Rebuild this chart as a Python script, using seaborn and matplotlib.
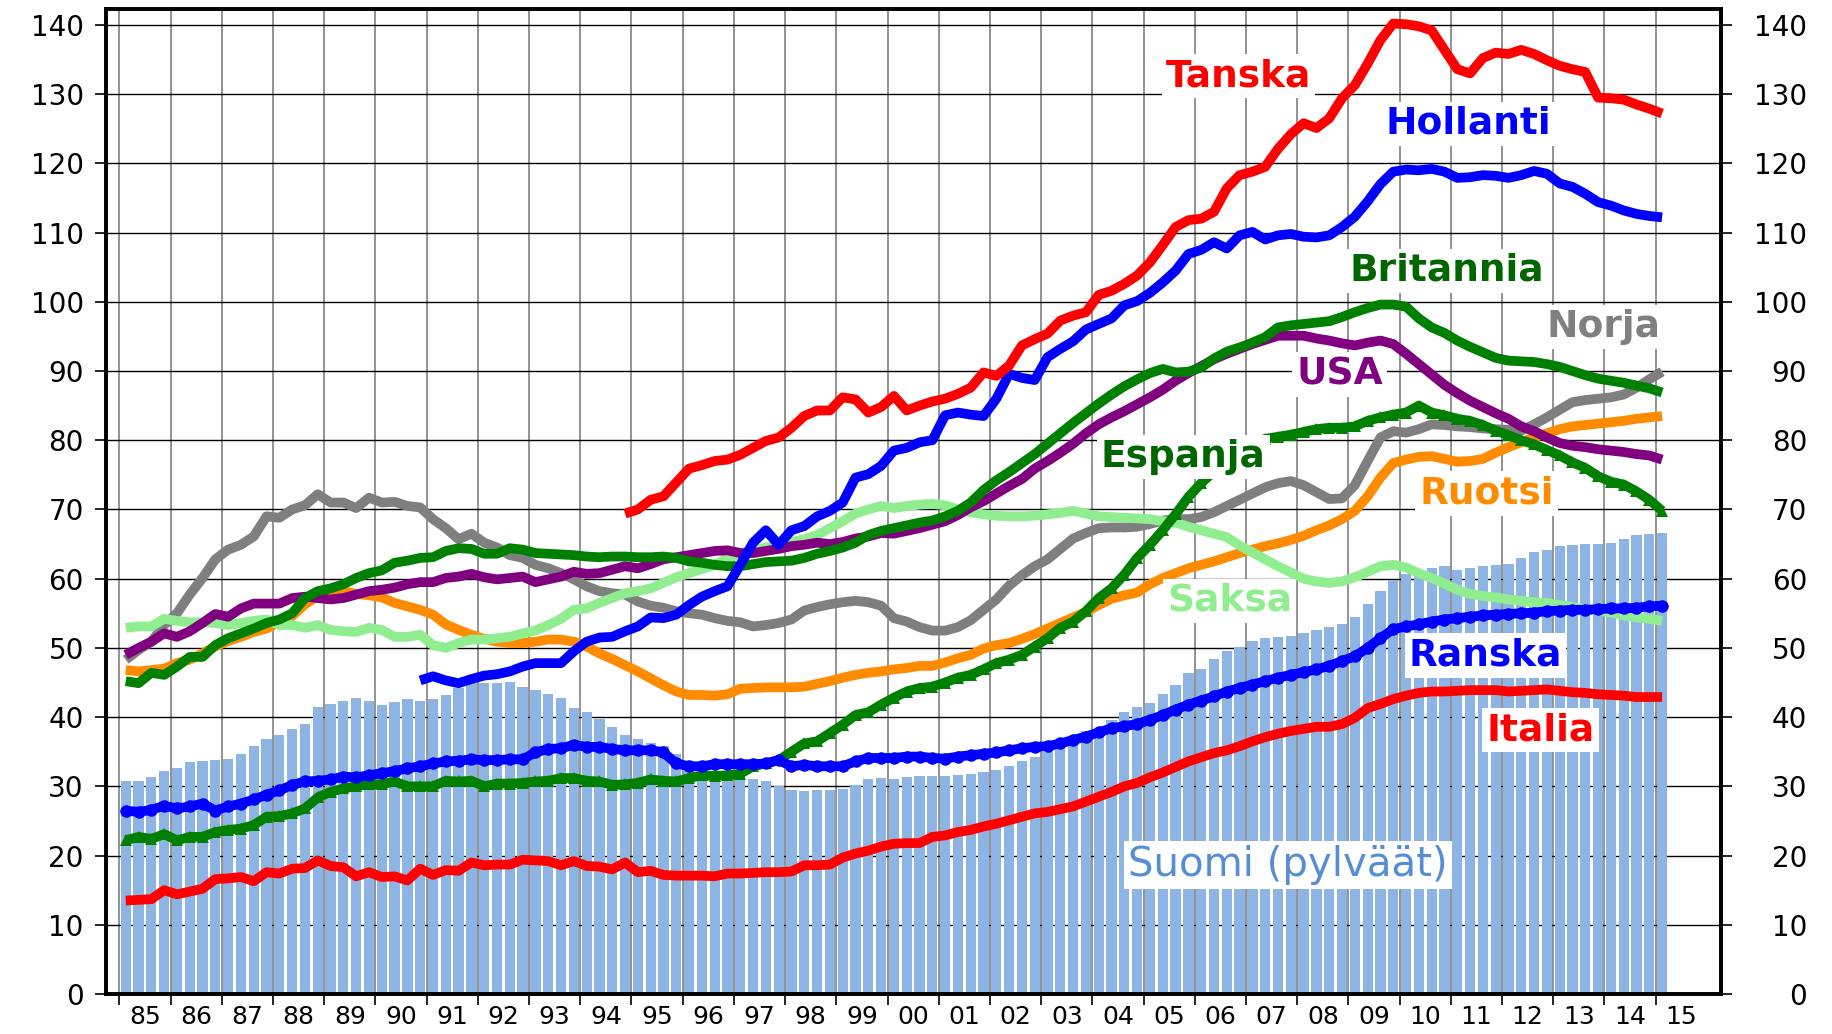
import numpy as np
import matplotlib
matplotlib.use("Agg")
import matplotlib.pyplot as plt
import seaborn as sns

# ======================
# DATA (quarterly, 1985Q1 ... 2015Q1, index 0..120)
# ======================
quarters = np.arange(121)
years = list(range(1985, 2016))
year_labels = [f"{y % 100:02d}" for y in years]

suomi = [30.8, 30.8, 31.3, 32.2, 32.6, 33.5, 33.7, 33.8, 34.0, 34.6,
         35.9, 36.8, 37.4, 38.3, 39.0, 41.5, 41.9, 42.3, 42.7, 42.4,
         41.8, 42.2, 42.6, 42.3, 42.6, 43.2, 44.2, 45.0, 45.0, 45.0,
         45.1, 44.4, 43.9, 43.4, 42.8, 41.3, 40.8, 39.8, 38.6, 37.4,
         36.9, 36.3, 35.8, 34.7, 33.0, 32.0, 31.5, 31.4, 31.3, 31.0,
         30.8, 30.0, 29.4, 29.3, 29.5, 29.5, 29.6, 30.2, 31.0, 31.2,
         31.0, 31.3, 31.5, 31.5, 31.5, 31.6, 31.8, 32.0, 32.4, 32.9,
         33.7, 34.3, 35.0, 35.8, 36.8, 38.0, 38.4, 39.6, 40.7, 41.4,
         42.0, 43.3, 44.6, 46.4, 46.9, 48.4, 49.5, 50.2, 51.0, 51.4,
         51.6, 51.7, 52.2, 52.6, 53.0, 53.4, 54.4, 56.3, 58.2, 59.8,
         60.7, 61.1, 61.5, 61.8, 61.3, 61.6, 61.8, 62.0, 62.1, 63.0,
         63.8, 64.2, 64.7, 64.9, 65.0, 65.0, 65.2, 65.8, 66.3, 66.5,
         66.6]

italia = [13.5, 13.6, 13.7, 15.0, 14.4, 14.8, 15.2, 16.6, 16.7, 16.9,
          16.3, 17.6, 17.4, 18.1, 18.2, 19.3, 18.5, 18.3, 17.0, 17.6,
          16.9, 17.0, 16.4, 18.1, 17.2, 17.9, 17.8, 19.0, 18.6, 18.7,
          18.7, 19.4, 19.3, 19.2, 18.6, 19.2, 18.5, 18.4, 18.0, 19.0,
          17.6, 17.8, 17.2, 17.1, 17.1, 17.1, 17.0, 17.4, 17.4, 17.5,
          17.6, 17.6, 17.7, 18.6, 18.6, 18.7, 19.7, 20.3, 20.7, 21.3,
          21.7, 21.8, 21.8, 22.7, 22.9, 23.4, 23.7, 24.2, 24.6, 25.1,
          25.6, 26.1, 26.3, 26.7, 27.1, 27.8, 28.5, 29.2, 30.0, 30.5,
          31.3, 32.0, 32.8, 33.6, 34.2, 34.8, 35.2, 35.8, 36.5, 37.1,
          37.6, 38.0, 38.3, 38.6, 38.6, 39.0, 39.9, 41.3, 41.9, 42.6,
          43.1, 43.5, 43.7, 43.7, 43.8, 43.9, 43.9, 43.9, 43.7, 43.8,
          43.9, 44.0, 43.8, 43.6, 43.5, 43.3, 43.2, 43.1, 42.9, 42.9,
          42.9]

ranska = [26.5, 26.3, 26.6, 27.2, 26.8, 27.1, 27.5, 26.5, 27.1, 27.5,
          28.1, 28.8, 29.4, 30.2, 30.7, 30.8, 31.0, 31.4, 31.3, 31.6,
          31.9, 32.2, 32.6, 32.9, 33.3, 33.6, 33.7, 33.9, 33.8, 33.8,
          33.9, 33.9, 34.9, 35.4, 35.5, 36.0, 35.7, 35.7, 35.4, 35.2,
          35.2, 35.2, 34.9, 33.3, 32.9, 32.9, 33.2, 33.2, 33.2, 33.2,
          33.3, 33.8, 32.9, 33.1, 32.9, 32.9, 32.9, 33.6, 34.1, 34.1,
          34.1, 34.3, 34.3, 34.1, 34.0, 34.3, 34.5, 34.7, 34.9, 35.2,
          35.5, 35.7, 35.8, 36.2, 36.7, 37.2, 37.8, 38.4, 38.7, 39.0,
          39.6, 40.3, 41.1, 41.8, 42.4, 43.0, 43.7, 44.2, 44.7, 45.2,
          45.7, 46.1, 46.5, 46.9, 47.4, 48.1, 48.8, 50.0, 51.4, 52.7,
          53.1, 53.4, 53.8, 54.1, 54.3, 54.5, 54.7, 54.8, 54.9, 55.0,
          55.1, 55.3, 55.4, 55.5, 55.5, 55.6, 55.7, 55.7, 55.8, 56.0,
          56.1]

espanja = [22.2, 22.7, 22.4, 23.1, 22.2, 22.7, 22.7, 23.4, 23.7, 23.9,
           24.4, 25.6, 25.7, 26.1, 26.8, 28.4, 29.2, 29.7, 30.0, 30.3,
           30.3, 30.7, 30.0, 30.0, 30.0, 30.8, 30.7, 30.8, 30.0, 30.4,
           30.4, 30.5, 30.7, 30.8, 31.2, 31.2, 30.8, 30.7, 30.2, 30.3,
           30.5, 31.0, 30.8, 30.7, 31.2, 31.6, 31.5, 31.6, 31.8, 32.9,
           33.3, 33.8, 35.0, 36.2, 36.5, 37.7, 38.9, 40.3, 40.7, 41.8,
           42.8, 43.7, 44.2, 44.4, 45.0, 45.7, 46.1, 46.9, 47.8, 48.3,
           49.0, 50.2, 51.4, 52.9, 53.8, 55.3, 57.2, 58.6, 60.6, 63.0,
           64.9, 67.0, 69.3, 71.8, 73.8, 75.5, 77.0, 78.5, 79.5, 80.2,
           80.5, 80.8, 81.2, 81.6, 81.8, 81.8, 82.0, 82.8, 83.3, 83.7,
           84.0, 85.0, 84.0, 83.6, 83.1, 82.8, 82.2, 81.4, 80.7, 80.0,
           79.4, 78.6, 77.8, 76.8, 76.0, 74.8, 74.0, 73.6, 72.6, 71.4,
           69.8]

britannia = [45.2, 44.9, 46.4, 46.1, 47.3, 48.7, 48.7, 50.4, 51.4, 52.1,
             52.8, 53.6, 54.1, 55.0, 57.2, 58.2, 58.6, 59.2, 60.1, 60.8,
             61.2, 62.3, 62.6, 63.0, 63.1, 64.0, 64.4, 64.3, 63.6, 63.6,
             64.4, 64.2, 63.7, 63.6, 63.5, 63.4, 63.2, 63.1, 63.2, 63.2,
             63.1, 63.1, 63.2, 63.0, 62.5, 62.3, 62.0, 61.8, 61.8, 62.1,
             62.4, 62.5, 62.6, 63.0, 63.6, 64.0, 64.5, 65.2, 66.3, 66.9,
             67.3, 67.7, 68.1, 68.4, 69.0, 69.8, 71.0, 72.8, 74.2, 75.4,
             76.7, 78.0, 79.5, 81.0, 82.5, 83.9, 85.3, 86.6, 87.8, 88.8,
             89.7, 90.3, 89.8, 89.9, 90.5, 91.8, 92.8, 93.4, 94.1, 94.9,
             96.3, 96.6, 96.8, 97.0, 97.2, 97.8, 98.5, 99.1, 99.6, 99.6,
             99.3, 97.6, 96.3, 95.5, 94.4, 93.5, 92.7, 91.9, 91.5, 91.4,
             91.3, 91.0, 90.6, 90.0, 89.4, 88.9, 88.6, 88.3, 87.9, 87.5,
             86.9]

usa = [49.0, 50.0, 50.9, 52.1, 51.6, 52.4, 53.6, 54.9, 54.5, 55.7,
       56.4, 56.4, 56.4, 57.2, 57.4, 57.2, 57.0, 57.2, 57.7, 58.2,
       58.4, 58.7, 59.2, 59.5, 59.5, 60.1, 60.3, 60.7, 60.2, 59.9,
       60.1, 60.3, 59.5, 59.9, 60.3, 61.0, 60.7, 60.8, 61.3, 61.8,
       61.5, 62.1, 62.8, 63.1, 63.4, 63.7, 64.0, 64.1, 63.7, 63.7,
       64.0, 64.3, 64.7, 64.9, 65.2, 65.0, 65.3, 65.8, 66.1, 66.6,
       66.5, 66.9, 67.3, 67.8, 68.3, 69.2, 70.3, 71.2, 72.3, 73.4,
       74.4, 75.9, 77.0, 78.2, 79.5, 81.0, 82.3, 83.3, 84.2, 85.2,
       86.2, 87.3, 88.6, 89.7, 90.7, 91.7, 92.5, 93.2, 93.9, 94.5,
       95.1, 95.1, 95.1, 94.7, 94.4, 94.0, 93.7, 94.1, 94.4, 93.9,
       92.5, 91.0, 89.5, 88.0, 86.8, 85.7, 84.8, 83.9, 83.1, 82.0,
       81.3, 80.4, 79.6, 79.2, 79.0, 78.7, 78.5, 78.3, 78.0, 77.8,
       77.2]

norja = [48.3, 49.7, 50.9, 53.3, 55.0, 57.7, 60.1, 62.8, 64.2, 64.9,
         66.1, 69.0, 68.8, 70.0, 70.6, 72.2, 71.0, 71.0, 70.2, 71.7,
         71.0, 71.1, 70.5, 70.3, 68.6, 67.3, 65.7, 66.5, 65.2, 64.5,
         63.4, 63.0, 62.0, 61.5, 60.8, 59.9, 58.9, 58.2, 57.9, 57.7,
         56.7, 56.1, 55.8, 55.3, 55.0, 54.8, 54.3, 53.9, 53.7, 53.1,
         53.3, 53.6, 54.1, 55.4, 55.9, 56.3, 56.6, 56.8, 56.6, 56.1,
         54.3, 53.8, 53.0, 52.5, 52.5, 53.0, 54.0, 55.5, 57.0, 59.0,
         60.5, 61.8, 62.8, 64.3, 65.8, 66.6, 67.3, 67.4, 67.4, 67.5,
         67.9, 68.4, 68.6, 68.6, 68.9, 69.6, 70.5, 71.4, 72.3, 73.2,
         73.8, 74.1, 73.5, 72.5, 71.5, 71.6, 73.5, 77.0, 80.4, 81.3,
         81.1, 81.6, 82.3, 82.2, 82.0, 81.9, 81.7, 81.6, 81.5, 81.4,
         82.3, 83.3, 84.4, 85.5, 85.8, 86.0, 86.2, 86.6, 87.6, 88.8,
         89.9]

ruotsi = [46.8, 46.6, 46.8, 47.0, 47.8, 48.3, 49.2, 50.2, 51.0, 51.6,
          52.3, 52.8, 53.7, 54.6, 56.3, 57.5, 58.3, 58.2, 57.8, 57.6,
          57.3, 56.5, 56.0, 55.5, 54.8, 53.4, 52.6, 51.9, 51.3, 50.9,
          50.7, 50.7, 50.9, 51.2, 51.2, 50.9, 50.2, 49.2, 48.4, 47.5,
          46.6, 45.6, 44.6, 43.7, 43.2, 43.2, 43.1, 43.3, 44.1, 44.2,
          44.3, 44.3, 44.3, 44.4, 44.8, 45.2, 45.7, 46.1, 46.4, 46.6,
          46.9, 47.1, 47.4, 47.4, 47.9, 48.5, 49.0, 49.9, 50.4, 50.7,
          51.3, 52.0, 52.8, 53.6, 54.4, 55.2, 56.2, 57.1, 57.6, 58.0,
          59.2, 60.1, 60.8, 61.5, 62.0, 62.5, 63.1, 63.7, 64.2, 64.7,
          65.1, 65.6, 66.2, 67.0, 67.7, 68.6, 69.8, 71.9, 74.6, 76.7,
          77.2, 77.6, 77.7, 77.3, 76.9, 77.0, 77.3, 78.2, 79.0, 79.7,
          80.4, 81.0, 81.6, 82.0, 82.2, 82.4, 82.6, 82.8, 83.1, 83.3,
          83.5]

saksa = [52.9, 53.1, 53.1, 54.2, 53.9, 53.7, 53.7, 53.6, 53.3, 53.6,
         53.9, 54.1, 53.3, 53.3, 52.9, 53.3, 52.6, 52.4, 52.3, 52.9,
         52.6, 51.6, 51.6, 51.9, 50.4, 50.0, 50.7, 51.2, 51.2, 51.4,
         51.6, 52.1, 52.5, 53.3, 54.2, 55.5, 55.7, 56.5, 57.2, 57.9,
         58.2, 58.6, 59.4, 60.2, 60.8, 61.4, 62.0, 63.0, 63.6, 64.1,
         64.5, 64.9, 65.3, 65.7, 66.3, 67.3, 68.3, 69.4, 70.0, 70.5,
         70.2, 70.5, 70.7, 70.8, 70.6, 70.0, 69.6, 69.3, 69.1, 69.0,
         69.0, 69.1, 69.3, 69.5, 69.8, 69.4, 69.0, 68.9, 68.8, 68.7,
         68.6, 68.3, 68.1, 67.5, 67.0, 66.5, 66.0, 64.8, 63.8, 62.8,
         61.8, 60.9, 60.0, 59.6, 59.4, 59.6, 60.2, 61.0, 61.8, 62.0,
         61.6, 60.8, 60.1, 59.3, 58.4, 57.8, 57.5, 57.3, 57.0, 56.8,
         56.6, 56.5, 56.2, 55.9, 55.6, 55.4, 55.1, 54.7, 54.4, 54.2,
         53.9]

# Tanska starts 1994Q4 (index 39)
tanska_start = 39
tanska = [69.4, 70.0, 71.4, 71.9, 73.9, 75.9, 76.4, 77.0, 77.2, 77.9, 78.9,
          79.9, 80.4, 81.8, 83.5, 84.3, 84.3, 86.2, 85.9, 84.0, 84.8,
          86.4, 84.3, 85.0, 85.6, 86.0, 86.7, 87.6, 89.8, 89.3, 90.8,
          93.7, 94.6, 95.4, 97.3, 98.0, 98.5, 101.0, 101.6, 102.6, 103.8,
          105.7, 108.2, 110.8, 111.8, 112.0, 113.0, 116.4, 118.3, 118.8, 119.5,
          122.1, 124.2, 125.8, 125.1, 126.5, 129.4, 131.3, 134.4, 137.8, 140.2,
          140.1, 139.8, 139.2, 136.4, 133.6, 133.0, 135.2, 136.0, 135.8, 136.4,
          135.8, 134.9, 134.1, 133.6, 133.2, 129.5, 129.4, 129.2, 128.5, 127.9,
          127.2]

# Hollanti starts 1990Q4 (index 23)
hollanti_start = 23
hollanti = [45.3, 45.9, 45.3, 44.9, 45.5, 46.0, 46.2,
            46.6, 47.3, 47.8, 47.8, 47.8, 49.5, 50.9, 51.5, 51.6, 52.4,
            53.1, 54.4, 54.3, 54.8, 56.2, 57.4, 58.2, 58.9, 62.0, 65.2,
            67.0, 64.9, 67.0, 67.6, 69.0, 69.8, 71.0, 74.6, 75.1, 76.3,
            78.5, 78.9, 79.7, 80.0, 83.6, 84.0, 83.7, 83.5, 86.0, 89.6,
            89.0, 88.7, 92.0, 93.2, 94.3, 96.0, 96.8, 97.6, 99.5, 100.1,
            101.3, 102.8, 104.5, 106.9, 107.5, 108.6, 107.7, 109.6, 110.1, 109.0,
            109.6, 109.8, 109.4, 109.3, 109.6, 110.8, 112.3, 114.5, 117.0, 118.8,
            119.1, 119.0, 119.2, 118.8, 117.9, 118.0, 118.3, 118.2, 117.9, 118.3,
            118.9, 118.5, 117.1, 116.6, 115.6, 114.4, 113.9, 113.2, 112.7, 112.4,
            112.2]

# ======================
# FIGURE
# ======================
fig = plt.figure(figsize=(18.32, 10.34), dpi=100)
ax = fig.add_axes([106 / 1832, 1 - 994 / 1034, (1721 - 106) / 1832, (994 - 9) / 1034])

# Finland bars
sns.barplot(x=quarters, y=suomi, native_scale=True, color="#8DB4E2",
            saturation=1, width=0.8, errorbar=None, linewidth=0, ax=ax, zorder=1)

LW = 7
series = [
    ("norja", norja, 0, "#7F7F7F", None, 0),
    ("ruotsi", ruotsi, 0, "#FF8C00", None, 0),
    ("saksa", saksa, 0, "#90EE90", None, 0),
    ("espanja", espanja, 0, "#008000", "^", 9),
    ("usa", usa, 0, "#800080", None, 0),
    ("britannia", britannia, 0, "#008000", None, 0),
    ("hollanti", hollanti, hollanti_start, "#0000FF", None, 0),
    ("ranska", ranska, 0, "#0000FF", "o", 9),
    ("tanska", tanska, tanska_start, "#FF0000", None, 0),
    ("italia", italia, 0, "#FF0000", None, 0),
]
for i, (name, vals, start, col, mk, ms) in enumerate(series):
    xs = quarters[start:start + len(vals)]
    sns.lineplot(x=xs, y=vals, ax=ax, color=col, linewidth=LW,
                 marker=mk, markersize=ms, markeredgewidth=0,
                 solid_capstyle="butt", zorder=3 + i * 0.1)

# series labels
labels = [
    ("Tanska", 86.9, 132.6, "#FF0000", "bold", 27),
    ("Hollanti", 104.9, 125.7, "#0000FF", "bold", 27),
    ("Britannia", 103.2, 104.5, "#006600", "bold", 27),
    ("Norja", 115.4, 96.4, "#808080", "bold", 27),
    ("USA", 94.8, 89.5, "#800080", "bold", 27),
    ("Espanja", 82.6, 77.6, "#006600", "bold", 27),
    ("Ruotsi", 106.3, 72.3, "#FF8C00", "bold", 27),
    ("Saksa", 86.2, 56.8, "#90EE90", "bold", 27),
    ("Ranska", 106.2, 48.9, "#0000FF", "bold", 27),
    ("Italia", 110.5, 38.1, "#FF0000", "bold", 27),
    ("Suomi (pylväät)", 90.8, 18.6, "#558ED5", "normal", 29),
]
for txt, x, y, col, fw, fs in labels:
    ax.text(x, y, txt, color=col, fontsize=fs, fontweight=fw,
            ha="center", va="center", zorder=10,
            bbox=dict(facecolor="white", edgecolor="none", pad=3))

# ======================
# AXES
# ======================
ax.set_xlim(-1.54, 124.6)
ax.set_ylim(0, 142.3)
ax.set_xlabel("")
ax.set_ylabel("")

bounds = [4 * (y - 1985) - 0.5 for y in years]
mids = [4 * (y - 1985) + 1.5 for y in years]
ax.set_xticks(bounds)
ax.set_xticklabels([])
ax.set_xticks(mids, minor=True)
ax.set_xticklabels(year_labels, minor=True)
ax.tick_params(axis="x", which="major", length=8, width=1.2, direction="out")
ax.tick_params(axis="x", which="minor", length=0, labelsize=18, pad=8)

yticks = list(range(0, 141, 10))
ax.set_yticks(yticks)
ax.tick_params(axis="y", length=8, width=1.2, labelsize=20, pad=8)

ax.grid(axis="x", which="major", color="#808080", linewidth=1.2)
ax.grid(axis="y", which="major", color="black", linewidth=1.0)
ax.set_axisbelow(True)

for sp in ax.spines.values():
    sp.set_linewidth(2.6)
    sp.set_color("black")

ax2 = ax.twinx()
ax2.set_ylim(ax.get_ylim())
ax2.set_yticks(yticks)
ax2.tick_params(axis="y", length=8, width=1.2, labelsize=20, pad=54)
for lab in ax2.get_yticklabels():
    lab.set_horizontalalignment("right")
for sp in ax2.spines.values():
    sp.set_linewidth(2.6)

fig.savefig("out.png", dpi=100)
